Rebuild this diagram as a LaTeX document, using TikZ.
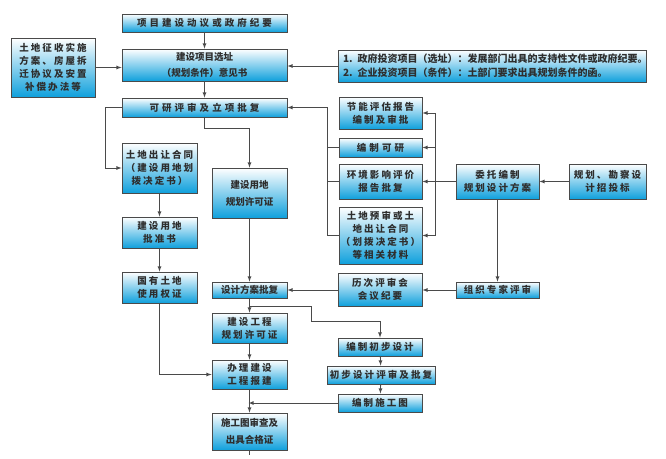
\documentclass[tikz,border=0pt]{standalone}
\usepackage{fontspec}
\setmainfont{Noto Sans CJK SC}
\newfontfamily\cjkwide[LetterSpace=22]{Noto Sans CJK SC}
\newfontfamily\cjkvwide[LetterSpace=32]{Noto Sans CJK SC}
\usetikzlibrary{arrows}
\definecolor{boxblue}{HTML}{0FA0DC}
\definecolor{linegray}{HTML}{4A4A4A}
\definecolor{textgray}{HTML}{2E2E2E}

\begin{document}
\begin{tikzpicture}[x=1pt,y=-1pt,>=latex,
	box/.style={draw=linegray,line width=0.8pt,top color=white,bottom color=boxblue,
		text=textgray,align=center,inner sep=0pt,font=\fontsize{9.5}{13}\selectfont\bfseries},
	wbox/.style={box,font=\fontsize{9.5}{13}\cjkwide\bfseries},
	vwbox/.style={box,font=\fontsize{9.5}{13}\cjkvwide\bfseries},
	link/.style={draw=linegray,line width=0.8pt}]
	\useasboundingbox (0,0) rectangle (666,458);
	\node[vwbox,minimum width=165,minimum height=18] (dongyi) at (204.5,23) {项目建设动议或政府纪要};
	\node[box,minimum width=165,minimum height=32] (xuanzhi) at (204.5,65) {建设项目选址\\[3pt]（规划条件）意见书};
	\node[wbox,minimum width=84,minimum height=59] (zhengshou) at (53,67.5) {土地征收实施\\方案、房屋拆\\迁协议及安置\\补偿办法等};
	\node[box,minimum width=308,minimum height=32,align=left,text width=298,
		font=\fontsize{10}{14}\selectfont\bfseries] (notes) at (492,66)
		{1. 政府投资项目（选址）：发展部门出具的支持性文件或政府纪要。\\2. 企业投资项目（条件）：土部门要求出具规划条件的函。};
	\node[vwbox,minimum width=165,minimum height=19] (keyan) at (204.5,107.5) {可研评审及立项批复};
	\node[wbox,minimum width=75,minimum height=50] (churang) at (159.5,168) {土地出让合同\\（建设用地划\\拨决定书）};
	\node[box,minimum width=75,minimum height=50] (ydxk) at (249.5,193) {建设用地\\[4pt]规划许可证};
	\node[wbox,minimum width=75,minimum height=31] (pizhun) at (159.5,232.5) {建设用地\\批准书};
	\node[wbox,minimum width=75,minimum height=31] (guoyou) at (159.5,287.5) {国有土地\\使用权证};
	\node[box,minimum width=75,minimum height=16] (fangan) at (249.5,290) {设计方案批复};
	\node[wbox,minimum width=75,minimum height=30] (gcxk) at (249.5,328) {建设工程\\规划许可证};
	\node[wbox,minimum width=75,minimum height=29] (baojian) at (249.5,374.5) {办理建设\\工程报建};
	\node[box,minimum width=75,minimum height=37] (shencha) at (249.5,431.5) {施工图审查及\\[4pt]出具合格证};
	\node[wbox,minimum width=83,minimum height=32] (jieneng) at (380.5,113) {节能评估报告\\编制及审批};
	\node[vwbox,minimum width=83,minimum height=19] (bianzhi) at (380.5,147.5) {编制可研};
	\node[wbox,minimum width=83,minimum height=35] (huanping) at (380.5,181.5) {环境影响评价\\报告批复};
	\node[wbox,minimum width=83,minimum height=57] (yushen) at (380.5,235.5) {土地预审或土\\地出让合同\\（划拨决定书）\\等相关材料};
	\node[wbox,minimum width=83,minimum height=35] (weituo) at (497.5,181.5) {委托编制\\规划设计方案};
	\node[wbox,minimum width=77,minimum height=35] (zhaotou) at (607.5,181.5) {规划、勘察设\\计招投标};
	\node[wbox,minimum width=84,minimum height=33] (lici) at (380,289.5) {历次评审会\\会议纪要};
	\node[wbox,minimum width=83,minimum height=16] (zhuanjia) at (497.5,290) {组织专家评审};
	\node[wbox,minimum width=84,minimum height=18] (chubu) at (380,347) {编制初步设计};
	\node[wbox,minimum width=108,minimum height=18] (cbps) at (381,375) {初步设计评审及批复};
	\node[wbox,minimum width=84,minimum height=18] (shigongtu) at (380,403) {编制施工图};
	\coordinate (lb) at (327,0);
	\coordinate (rb) at (435,0);
	\draw[link,->] (dongyi) -- (xuanzhi);
	\draw[link,->] (zhengshou.east) -- (xuanzhi.west |- zhengshou.east);
	\draw[link,->] (notes.west) -- (xuanzhi.east |- notes.west);
	\draw[link,->] (xuanzhi) -- (keyan);
	\draw[link,->] (keyan.west) -- ++(-16,0) |- (churang.west);
	\draw[link,->] (keyan.south) -- ++(0,11) -| (ydxk.north);
	\draw[link,->] (lb |- yushen.west) -- (lb |- keyan.east) -- (keyan.east);
	\foreach \n in {bianzhi,huanping,yushen}
		\draw[link] (lb |- \n.west) -- (\n.west);
	\draw[link] (rb |- jieneng.east) -- (rb |- yushen.east);
	\foreach \n in {jieneng,bianzhi,huanping,yushen}
		\draw[link,->] (rb |- \n.east) -- (\n.east);
	\draw[link] (weituo.west) -- (rb |- weituo.west);
	\draw[link,->] (zhaotou) -- (weituo);
	\draw[link,->] (weituo) -- (zhuanjia);
	\draw[link,->] (zhuanjia.west) -- (lici.east |- zhuanjia.west);
	\draw[link,->] (lici.west |- fangan.east) -- (fangan.east);
	\draw[link,->] (ydxk) -- (fangan);
	\draw[link,->] (fangan) -- (gcxk);
	\draw[link,->] ([yshift=-8pt]fangan.south) -- ++(61.5,0) -- ++(0,15) -| (chubu.north);
	\draw[link,->] (chubu) -- (cbps);
	\draw[link,->] (cbps) -- (shigongtu);
	\draw[link,->] (gcxk) -- (baojian);
	\draw[link,->] (baojian) -- (shencha);
	\draw[link,->,shorten >=-1pt] (shigongtu.west) -- (baojian.south |- shigongtu.west);
	\draw[link,->] (guoyou.south) |- (baojian.west);
	\draw[link,->] (churang) -- (pizhun);
	\draw[link,->] (pizhun) -- (guoyou);
	\draw[link] (shencha.south) -- ++(0,5);
\end{tikzpicture}
\end{document}
